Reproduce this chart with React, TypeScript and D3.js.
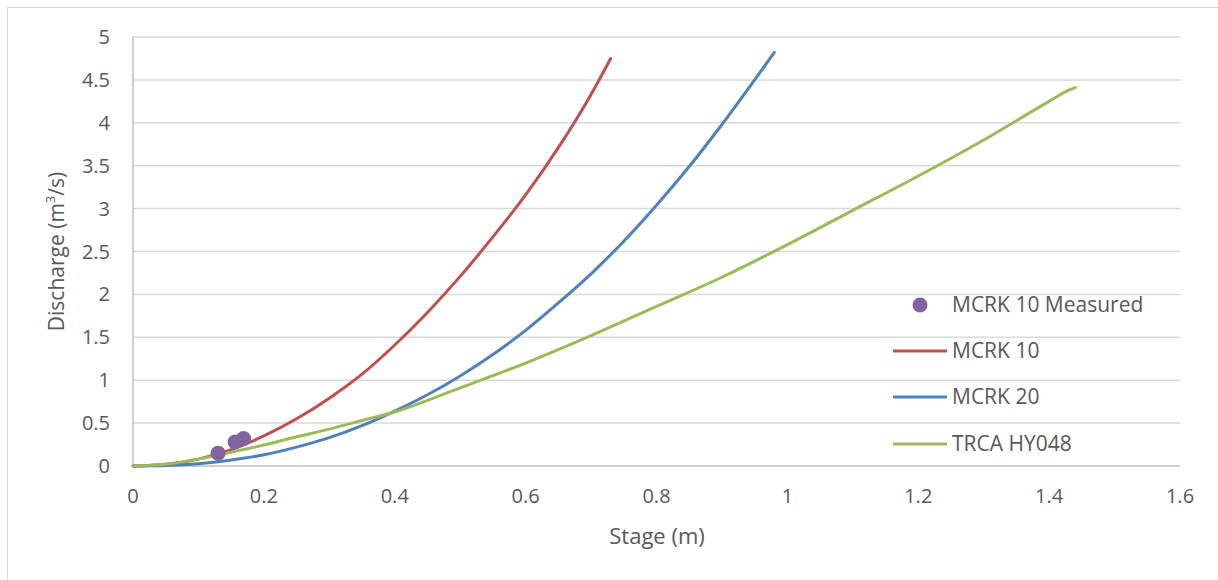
import React from "react";
import * as d3 from "d3";

const measuredStage = [0.13, 0.156, 0.169];
const measuredQ = [0.15, 0.28, 0.32];

const mcrk10Stage = [0, 0.05, 0.1, 0.15, 0.2, 0.25, 0.3, 0.35, 0.4, 0.45, 0.5, 0.55, 0.6, 0.65, 0.7, 0.73];
const mcrk10Q = [0, 0.02, 0.08, 0.19, 0.35, 0.55, 0.79, 1.07, 1.41, 1.79, 2.21, 2.67, 3.16, 3.71, 4.33, 4.75];

const mcrk20Stage = [0, 0.05, 0.1, 0.15, 0.2, 0.25, 0.3, 0.35, 0.4, 0.45, 0.5, 0.55, 0.6, 0.65, 0.7, 0.75, 0.8, 0.85, 0.9, 0.95, 0.98];
const mcrk20Q = [0, 0.006, 0.027, 0.07, 0.13, 0.22, 0.33, 0.47, 0.64, 0.83, 1.05, 1.3, 1.58, 1.9, 2.24, 2.62, 3.04, 3.49, 3.98, 4.5, 4.82];

const trcaStage = [0, 0.05, 0.1, 0.15, 0.2, 0.25, 0.3, 0.35, 0.4, 0.5, 0.6, 0.7, 0.8, 0.9, 1.0, 1.1, 1.2, 1.3, 1.4, 1.43, 1.44];
const trcaQ = [0, 0.02, 0.08, 0.16, 0.245, 0.34, 0.43, 0.53, 0.63, 0.91, 1.2, 1.52, 1.86, 2.2, 2.58, 2.98, 3.38, 3.8, 4.25, 4.38, 4.41];

const xTicks = [0, 0.2, 0.4, 0.6, 0.8, 1, 1.2, 1.4, 1.6];
const yTicks = [0, 0.5, 1, 1.5, 2, 2.5, 3, 3.5, 4, 4.5, 5];

const legendNames = ["MCRK 10 Measured", "MCRK 10", "MCRK 20", "TRCA HY048"];

const C = {
  measured: "#8064A2",
  red: "#C0504D",
  blue: "#4F81BD",
  green: "#9BBB59",
  grid: "#D9D9D9",
  axis: "#BFBFBF",
  text: "#595959",
};

const FONT = "'Open Sans', 'Liberation Sans', sans-serif";

export default function App() {
  const W = 1218;
  const H = 580;
  const x = d3.scaleLinear().domain([0, 1.6]).range([133, 1180]);
  const y = d3.scaleLinear().domain([0, 5]).range([466, 37]);

  const line = d3
    .line<[number, number]>()
    .x((d) => x(d[0]))
    .y((d) => y(d[1]))
    .curve(d3.curveMonotoneX);

  const zip = (a: number[], b: number[]) => a.map((v, i) => [v, b[i]] as [number, number]);

  const series = [
    { name: legendNames[1], color: C.red, d: zip(mcrk10Stage, mcrk10Q) },
    { name: legendNames[2], color: C.blue, d: zip(mcrk20Stage, mcrk20Q) },
    { name: legendNames[3], color: C.green, d: zip(trcaStage, trcaQ) },
  ];

  const legendY = [305, 351, 397, 444];

  return (
    <svg
      width={W}
      height={H}
      style={{ position: "absolute", left: 0, top: 0, background: "#fff" }}
      fontFamily={FONT}
    >
      <rect x={7.5} y={7.5} width={1300} height={700} fill="none" stroke={C.grid} strokeWidth={1} />

      {yTicks.map((t) =>
        t === 0 ? null : (
          <line key={"g" + t} x1={x(0)} x2={x(1.6)} y1={y(t)} y2={y(t)} stroke={C.grid} strokeWidth={1.5} />
        )
      )}
      <line x1={x(0)} x2={x(0)} y1={y(0)} y2={y(5)} stroke={C.axis} strokeWidth={1.5} />
      <line x1={x(0)} x2={x(1.6)} y1={y(0)} y2={y(0)} stroke={C.axis} strokeWidth={1.5} />

      {yTicks.map((t) => (
        <text key={"yt" + t} x={110} y={y(t)} dy="0.35em" textAnchor="end" fontSize={20} fill={C.text}>
          {t}
        </text>
      ))}
      {xTicks.map((t) => (
        <text key={"xt" + t} x={x(t)} y={503} textAnchor="middle" fontSize={20} fill={C.text}>
          {t}
        </text>
      ))}

      <text x={657} y={544} textAnchor="middle" fontSize={22} fill={C.text}>
        Stage (m)
      </text>
      <text
        transform={`translate(64, ${y(2.5)}) rotate(-90)`}
        textAnchor="middle"
        fontSize={21}
        fill={C.text}
      >
        Discharge (m
        <tspan baselineShift="super" fontSize={13}>3</tspan>
        /s)
      </text>

      {series.map((s) => (
        <path key={s.name} d={line(s.d) || ""} fill="none" stroke={s.color} strokeWidth={3} strokeLinecap="round" />
      ))}

      {measuredStage.map((s, i) => (
        <circle key={"m" + i} cx={x(s)} cy={y(measuredQ[i])} r={7.5} fill={C.measured} />
      ))}

      <circle cx={920} cy={legendY[0]} r={7.5} fill={C.measured} />
      {series.map((s, i) => (
        <line key={"l" + i} x1={893} x2={947} y1={legendY[i + 1]} y2={legendY[i + 1]} stroke={s.color} strokeWidth={3} />
      ))}
      {legendNames.map((n, i) => (
        <text key={"lt" + i} x={952} y={legendY[i]} dy="0.35em" fontSize={21} fill={C.text}>
          {n}
        </text>
      ))}
    </svg>
  );
}
